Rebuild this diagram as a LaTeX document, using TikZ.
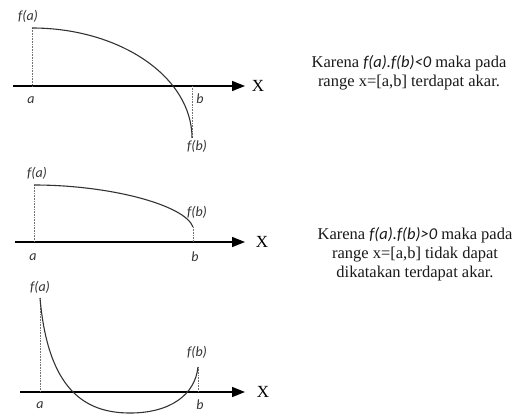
\documentclass[tikz,border=0pt]{standalone}
\usepackage{fontspec}
\setmainfont{Liberation Serif}
\newfontfamily\lblfont{Carlito}
\usetikzlibrary{arrows.meta}

\begin{document}
\begin{tikzpicture}[x=1pt,y=-1pt,
  axis/.style={draw=black,line width=1.5pt,-{Triangle[length=13pt,width=10pt]}},
  curve/.style={draw=black!80,line width=1.1pt},
  guide/.style={draw=black!55,densely dotted,line width=0.6pt},
  lbl/.style={font=\lblfont\itshape\fontsize{14}{15}\selectfont,text=black!80,inner sep=0pt},
  axlbl/.style={font=\fontsize{17}{18}\selectfont,inner sep=0pt},
  note/.style={font=\fontsize{16.5}{19}\selectfont,align=center,text=black!90,inner sep=0pt}
]
\useasboundingbox (0,0) rectangle (516,415);

% panel 1: f(a) > 0, f(b) < 0
\coordinate (o1) at (13,86);
\coordinate (e1) at (245,86);
\coordinate (fa1) at (32,28);
\coordinate (fb1) at (192,138);
\draw[axis] (o1) -- (e1);
\draw[guide] (fa1) -- (fa1 |- o1);
\draw[guide] (fb1) -- (fb1 |- o1);
\draw[curve] (fa1) .. controls (120,28) and (192,77) .. (fb1);
\node[axlbl] (x1) at (258,86) {X};
\node[lbl] (la1) at (28,16) {f(a)};
\node[lbl] (a1) at (31,100) {a};
\node[lbl] (b1) at (200,99) {b};
\node[lbl] (lb1) at (197,146) {f(b)};

% panel 2: both above the axis
\coordinate (o2) at (15,242);
\coordinate (e2) at (245,242);
\coordinate (fa2) at (34,185);
\coordinate (fb2) at (193,227);
\draw[axis] (o2) -- (e2);
\draw[guide] (fa2) -- (fa2 |- o2);
\draw[guide] (fb2) -- (fb2 |- o2);
\draw[curve] (fa2) .. controls (110,185) and (185,205) .. (fb2);
\node[axlbl] (x2) at (262,242) {X};
\node[lbl] (la2) at (37,173) {f(a)};
\node[lbl] (a2) at (33,257) {a};
\node[lbl] (b2) at (195,257) {b};
\node[lbl] (lb2) at (197,212) {f(b)};

% panel 3: both above, two roots between
\coordinate (o3) at (20,392);
\coordinate (e3) at (245,392);
\coordinate (fa3) at (40,298);
\coordinate (fb3) at (198,367);
\coordinate (m3) at (130,413);
\draw[axis] (o3) -- (e3);
\draw[guide] (fa3) -- (fa3 |- o3);
\draw[guide] (fb3) -- (fb3 |- o3);
\draw[curve] (fa3) .. controls (48,390) and (85,413) .. (m3) .. controls (170,413) and (195,395) .. (fb3);
\node[axlbl] (x3) at (263,392) {X};
\node[lbl] (la3) at (40,287) {f(a)};
\node[lbl] (a3) at (40,405) {a};
\node[lbl] (b3) at (200,405) {b};
\node[lbl] (lb3) at (197,352) {f(b)};

% keterangan
\node[note] (n1) at (409,73) {Karena {\lblfont\itshape f(a).f(b)<0} maka pada\\range x=[a,b] terdapat akar.};
\node[note] (n2) at (415,254) {Karena {\lblfont\itshape f(a).f(b)>0} maka pada\\range x=[a,b] tidak dapat\\dikatakan terdapat akar.};
\end{tikzpicture}
\end{document}
